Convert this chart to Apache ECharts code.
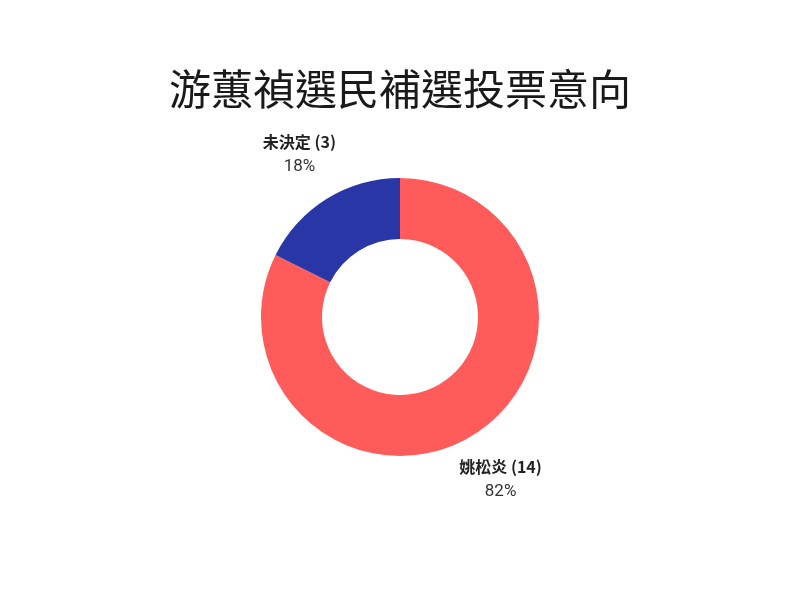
<!DOCTYPE html>
<html>
<head>
<meta charset="utf-8">
<script src="https://cdn.jsdelivr.net/npm/echarts@6/dist/echarts.min.js"></script>
<style>
  html, body { margin: 0; padding: 0; background: #fff; }
  #main { width: 800px; height: 600px; }
</style>
</head>
<body>
<div id="main"></div>
<script>
// 資料
var names = ['姚松炎', '未決定'];
var counts = [14, 3];
var colors = ['#FF5B5B', '#2837A5'];

var pieData = names.map(function (n, i) {
    return { name: n, value: counts[i], itemStyle: { color: colors[i] } };
});

var chart = echarts.init(document.getElementById('main'));
chart.setOption({
    backgroundColor: '#ffffff',
    title: {
        text: '游蕙禎選民補選投票意向',
        left: 'center',
        top: 68,
        textStyle: {
            fontFamily: 'serif, "Noto Sans CJK TC"',
            fontWeight: 'normal',
            fontSize: 42,
            color: '#1a1a1a'
        }
    },
    series: [
        {
            type: 'pie',
            center: [400, 317],
            radius: [78, 139],
            startAngle: 90,
            clockwise: true,
            percentPrecision: 0,
            silent: true,
            label: { show: false },
            labelLine: { show: false },
            data: pieData
        },
        {
            // 透明的外圈只用來放標籤
            type: 'pie',
            center: [400, 317],
            radius: [150, 226],
            startAngle: 90,
            clockwise: true,
            percentPrecision: 0,
            silent: true,
            itemStyle: { color: 'rgba(0,0,0,0)' },
            label: {
                show: true,
                position: 'inside',
                formatter: '{n|{b} ({c})}\n{p|{d}%}',
                rich: {
                    n: {
                        fontFamily: '"Noto Sans CJK TC", Roboto, sans-serif',
                        fontWeight: 'bold',
                        fontSize: 16,
                        color: '#222',
                        lineHeight: 25
                    },
                    p: {
                        fontFamily: 'Roboto, "Noto Sans", sans-serif',
                        fontSize: 17,
                        color: '#333',
                        lineHeight: 25
                    }
                }
            },
            labelLine: { show: false },
            data: pieData.map(function (d) {
                return { name: d.name, value: d.value };
            })
        }
    ]
});
</script>
</body>
</html>
